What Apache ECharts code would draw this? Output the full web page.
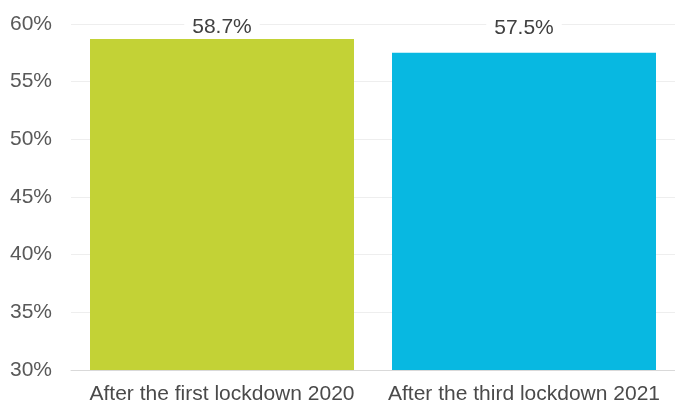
<!DOCTYPE html>
<html><head><meta charset="utf-8">
<script src="https://cdn.jsdelivr.net/npm/echarts@6/dist/echarts.min.js"></script>
<style>html,body{margin:0;padding:0;background:#fff}#c{width:675px;height:408px}</style>
</head><body><div id="c"></div>
<script>
const categories = ["After the first lockdown 2020", "After the third lockdown 2021"];
const values = [58.7, 57.5];
const colors = ["#c3d236", "#08b8e1"];
const yTicks = [30, 35, 40, 45, 50, 55, 60];
const labelDistances = [1, 14];

const FONT = 'Liberation Sans, Arial, sans-serif';
const chart = echarts.init(document.getElementById('c'), null, {renderer: 'canvas'});
chart.setOption({
  animation: false,
  grid: {left: 71, top: 24, right: -4, height: 346},
  xAxis: {
    type: 'category', data: categories,
    axisLine: {lineStyle: {color: '#d9d9d9', width: 1}},
    axisTick: {show: false},
    axisLabel: {color: '#4a4a4a', fontSize: 21, fontFamily: FONT, margin: 14, interval: 0, hideOverlap: false}
  },
  yAxis: {
    type: 'value', min: yTicks[0], max: yTicks[yTicks.length-1], interval: 5,
    axisLine: {show: false}, axisTick: {show: false},
    splitLine: {lineStyle: {color: '#eeeeee', width: 1}},
    axisLabel: {color: '#595959', fontSize: 21, fontFamily: FONT, margin: 19,
      formatter: v => v + '%'}
  },
  series: [{
    type: 'bar', barWidth: 264,
    data: values.map((v, i) => ({value: v, itemStyle: {color: colors[i]},
      label: {distance: labelDistances[i]}})),
    label: {show: true, position: 'top', color: '#404040', fontSize: 21,
      fontFamily: FONT, backgroundColor: '#fff', padding: [0, 8],
      formatter: p => p.value.toFixed(1) + '%'}
  }]
});
</script></body></html>
